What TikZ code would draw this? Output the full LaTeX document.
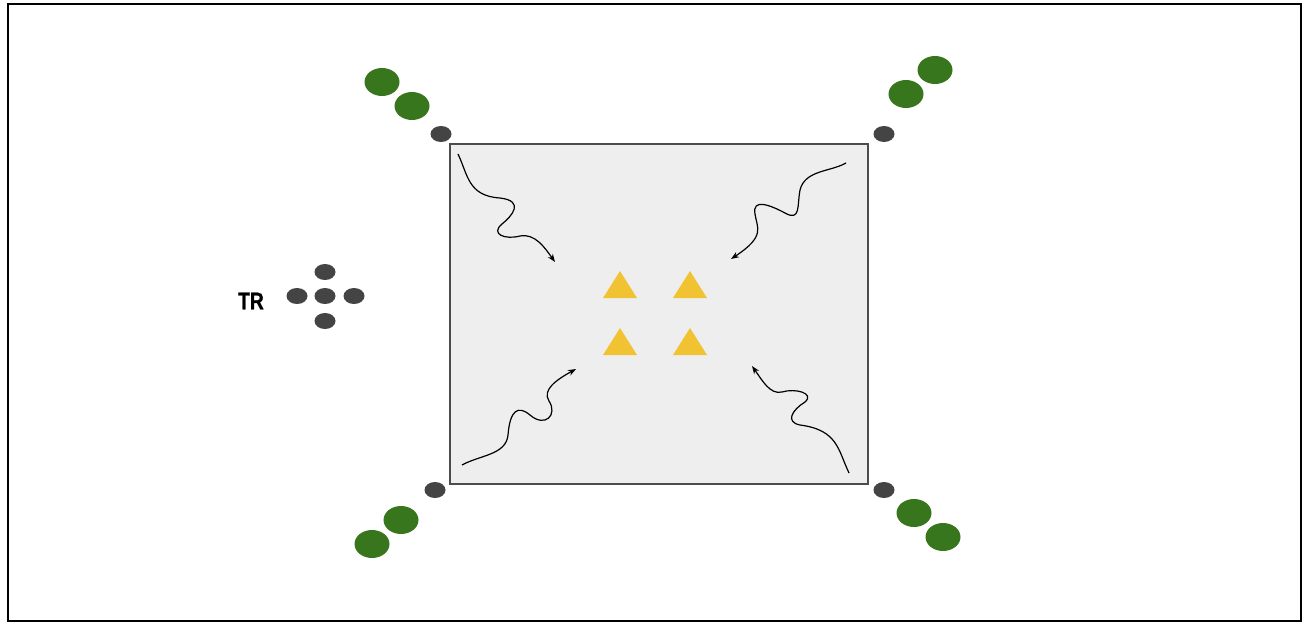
\documentclass[tikz,border=0pt]{standalone}
\usepackage{fontspec}
\setmainfont{Liberation Sans}
\newfontfamily\trfont[FakeBold=1.2,FakeStretch=0.8]{Liberation Sans}
\usetikzlibrary{arrows.meta,shapes.geometric}
\definecolor{dgray}{HTML}{444444}
\definecolor{leaf}{HTML}{38761D}
\definecolor{gold}{HTML}{F1C232}
\definecolor{panel}{HTML}{EEEEEE}
\begin{document}
\begin{tikzpicture}[x=1pt,y=-1pt,
  dot/.style={ellipse,fill=dgray,minimum width=21pt,minimum height=16pt,inner sep=0pt},
  gdot/.style={ellipse,fill=leaf,minimum width=35pt,minimum height=28pt,inner sep=0pt},
  tri/.style={fill=gold,draw=none},
  wave/.style={line width=1.2pt,-{Stealth[length=8pt,width=6pt]}}]
\useasboundingbox (0,0) rectangle (1303,623);
\draw[line width=2pt] (8,4) rectangle (1301,621);
\node[draw=black!70,fill=panel,line width=1.5pt,minimum width=418pt,minimum height=340pt,inner sep=0pt,anchor=north west] (box) at (449,143) {};
% corner dots
\node[dot] (c1) at (441,134) {};
\node[dot] (c2) at (884,134) {};
\node[dot] (c3) at (435,490) {};
\node[dot] (c4) at (884,490) {};
% green dots
\node[gdot] (g1) at (382,82) {};
\node[gdot] (g2) at (412,106) {};
\node[gdot] (g3) at (935,70) {};
\node[gdot] (g4) at (906,94) {};
\node[gdot] (g5) at (401,520) {};
\node[gdot] (g6) at (372,544) {};
\node[gdot] (g7) at (914,513) {};
\node[gdot] (g8) at (943,537) {};
% TR cluster
\node[dot] (t0) at (325,296) {};
\node[dot] (t1) at (325,272) {};
\node[dot] (t2) at (325,321) {};
\node[dot] (t3) at (297,296) {};
\node[dot] (t4) at (354,296) {};
\node[font=\trfont\bfseries\fontsize{24}{24}\selectfont,inner sep=0pt] (tr) at (251,301) {TR};
% triangles
\fill[tri] (620,271) -- (637,298) -- (603,298) -- cycle;
\fill[tri] (690,271) -- (707,298) -- (673,298) -- cycle;
\fill[tri] (620,328) -- (637,355) -- (603,355) -- cycle;
\fill[tri] (690,328) -- (707,355) -- (673,355) -- cycle;
% wavy arrows
\coordinate (a1) at (458,154); \coordinate (b1) at (555,262);
\coordinate (a2) at (846,163); \coordinate (b2) at (731,259);
\coordinate (a3) at (462,465); \coordinate (b3) at (576,369);
\coordinate (a4) at (849,473); \coordinate (b4) at (752,366);
\draw[wave] (a1) .. controls (468,175) and (468,196) .. (500,198) .. controls (525,201) and (512,216) .. (502,224) .. controls (490,234) and (505,240) .. (520,236) .. controls (535,233) and (545,248) .. (b1);
\draw[wave] (a2) .. controls (830,172) and (805,170) .. (800,190) .. controls (797,205) and (801,222) .. (785,213) .. controls (770,205) and (752,198) .. (755,214) .. controls (757,228) and (766,236) .. (b2);
\draw[wave] (a3) .. controls (480,455) and (506,455) .. (508,435) .. controls (510,410) and (518,405) .. (530,415) .. controls (545,428) and (558,415) .. (549,401) .. controls (542,390) and (556,380) .. (b3);
\draw[wave] (a4) .. controls (838,450) and (838,430) .. (800,425) .. controls (785,422) and (792,410) .. (805,402) .. controls (815,393) and (795,388) .. (782,392) .. controls (770,395) and (762,380) .. (b4);
\end{tikzpicture}
\end{document}
